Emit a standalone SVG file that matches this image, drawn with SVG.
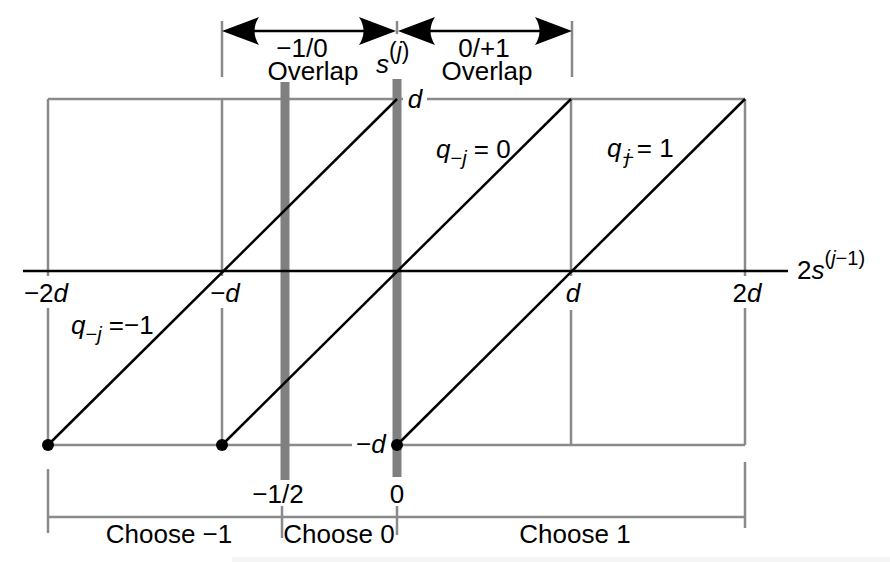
<svg xmlns="http://www.w3.org/2000/svg" width="890" height="562" viewBox="0 0 890 562">
<style>
.g{stroke:#8a8a8a;stroke-width:2.5;fill:none}
.bar{stroke:#808080;stroke-width:9;fill:none}
.k{stroke:#000;stroke-width:2.5;fill:none}
text{font-family:"Liberation Sans",Arial,sans-serif;font-size:26px;fill:#000}
.i{font-style:italic}
.m{text-anchor:middle}
</style>
<defs>
<path id="ah" d="M0,0 L-37,-14 Q-28,0 -37,14 Z" fill="#000"/>
</defs>
<rect x="232" y="557" width="658" height="5" fill="#f5f5f5"/>
<g id="grid">
<path class="g" d="M48,99H403M427,99H745"/>
<path class="g" d="M48,445H352M397,445H745"/>
<path class="g" d="M48,99V276M48,308V445"/>
<path class="g" d="M222,99V276M222,308V445"/>
<path class="g" d="M571,99V276M571,310V445"/>
<path class="g" d="M745,99V276M745,308V445"/>
</g>
<g id="bars">
<path class="bar" d="M285,82V480"/>
<path class="bar" d="M397,79V477"/>
</g>
<g id="axis">
<path class="k" d="M23,271H788"/>
<text x="797" y="279">2<tspan class="i">s</tspan><tspan font-size="20" dy="-14">(</tspan><tspan font-size="20" class="i">j</tspan><tspan font-size="20">−1)</tspan></text>
<text x="46" y="302" class="m">−2<tspan class="i">d</tspan></text>
<text x="225" y="302" class="m">−<tspan class="i">d</tspan></text>
<text x="573" y="302" class="m i">d</text>
<text x="747" y="302" class="m">2<tspan class="i">d</tspan></text>
<text x="415" y="108" class="m i">d</text>
<text x="356" y="453">−<tspan class="i">d</tspan></text>
</g>
<g id="connectors">
<path class="k" d="M48,445L397,99"/>
<path class="k" d="M222,445L571,99"/>
<path class="k" d="M397,445L745,99"/>
<circle cx="48" cy="445" r="6"/>
<circle cx="222" cy="445" r="6"/>
<circle cx="397" cy="445" r="6"/>
</g>
<g id="qlabels">
<text x="71" y="334"><tspan class="i">q</tspan><tspan font-size="20" dy="7">−</tspan><tspan font-size="20" class="i">j</tspan><tspan dy="-7"> =−1</tspan></text>
<text x="436" y="158"><tspan class="i">q</tspan><tspan font-size="20" dy="7">−</tspan><tspan font-size="20" class="i">j</tspan><tspan dy="-7"> = 0</tspan></text>
<text x="607" y="157"><tspan class="i">q</tspan><tspan font-size="20" dy="7" dx="1">−</tspan><tspan font-size="20" class="i" dx="-9">j</tspan><tspan dy="-7"> = 1</tspan></text>
</g>
<g id="top">
<path class="g" d="M222,21V77M572,21V77M397,21V34"/>
<path class="k" d="M240,31H380M415,31H555"/>
<use href="#ah" transform="translate(222,31) rotate(180)"/>
<use href="#ah" transform="translate(396,31)"/>
<use href="#ah" transform="translate(398,31) rotate(180)"/>
<use href="#ah" transform="translate(572,31)"/>
<text x="302" y="57" class="m">−1/0</text>
<text x="313" y="80" class="m">Overlap</text>
<text x="484" y="57" class="m">0/+1</text>
<text x="487" y="80" class="m">Overlap</text>
<text x="376" y="73" class="i" font-size="34">s<tspan font-size="23" dy="-14" font-style="normal">(</tspan><tspan font-size="23">j</tspan><tspan font-size="23" font-style="normal">)</tspan></text>
</g>
<g id="bottom">
<text x="278" y="503" class="m">−1/2</text>
<text x="397" y="503" class="m">0</text>
<path class="g" d="M48,517H745M48,469V533M282,506V538M397,506V535M745,462V528"/>
<text x="169" y="543" class="m">Choose −1</text>
<text x="339" y="543" class="m">Choose 0</text>
<text x="575" y="543" class="m">Choose 1</text>
</g>
</svg>
